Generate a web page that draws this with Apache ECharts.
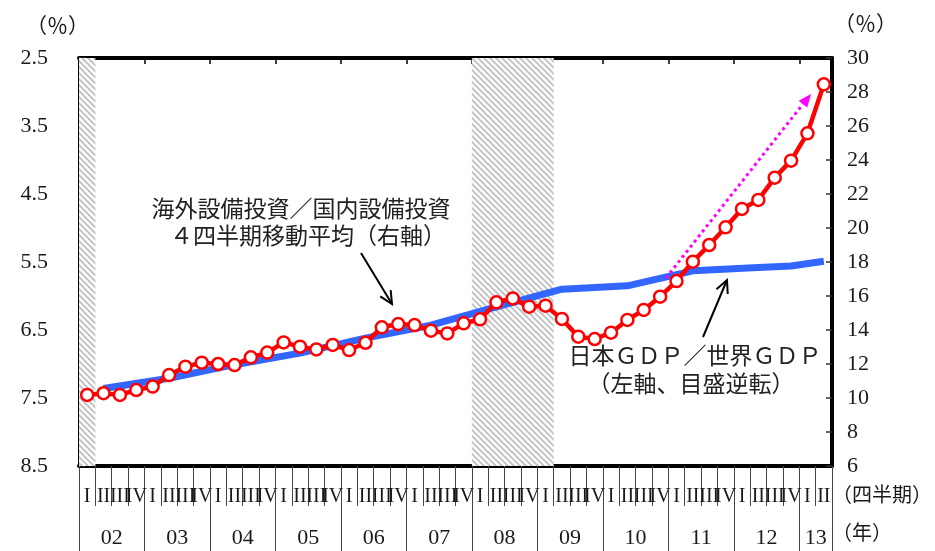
<!DOCTYPE html>
<html><head><meta charset="utf-8">
<script src="https://cdn.jsdelivr.net/npm/echarts@6/dist/echarts.min.js"></script>
<style>html,body{margin:0;padding:0;background:#fff}#c{width:935px;height:551px}</style>
</head><body><div id="c"></div>
<script>
// ---- data ----
const years = ['02','03','04','05','06','07','08','09','10','11','12','13'];
const quarterNames = ['I','II','III','IV'];
const lastYearQuarters = 2; // 2013: I, II
// 海外設備投資／国内設備投資 4四半期移動平均 (right axis, %)
const fdiRatio = [10.18, 10.28, 10.18, 10.47, 10.67, 11.35, 11.84, 12.08, 12.0, 11.94,
  12.39, 12.67, 13.27, 13.02, 12.86, 13.12, 12.82, 13.25, 14.16, 14.35,
  14.29, 13.96, 13.8, 14.39, 14.63, 15.63, 15.86, 15.37, 15.43, 14.65,
  13.61, 13.47, 13.84, 14.59, 15.18, 15.96, 16.88, 18.02, 19.0, 20.04,
  21.12, 21.65, 22.96, 23.96, 25.57, 28.45];
// 日本GDP／世界GDP (left axis, inverted, %)
const gdpShareAt = ['02-II','03-II','04-II','05-II','06-II','07-II','08-II','09-II','10-II','11-II','12-II','12-IV','13-II'];
const gdpShare = [7.36, 7.21, 7.01, 6.84, 6.62, 6.43, 6.16, 5.90, 5.85, 5.63, 5.58, 5.56, 5.49];
// shaded periods (recessions)
const shadeFrom = ['02-I', '08-I'];
const shadeTo = ['02-I', '09-I'];
const leftTicks = [2.5, 3.5, 4.5, 5.5, 6.5, 7.5, 8.5];

// ---- build ----
const quarters = [];
years.forEach((y, i) => {
  const n = i === years.length - 1 ? lastYearQuarters : 4;
  for (let q = 0; q < n; q++) quarters.push(y + '-' + quarterNames[q]);
});
const N = quarters.length;
const gdpData = quarters.map(k => { const j = gdpShareAt.indexOf(k); return j >= 0 ? gdpShare[j] : null; });
const yearCenters = {};
years.forEach((y, i) => {
  const s = i * 4, e = Math.min(s + 4, N);
  yearCenters[(s + e) / 2] = y;
});
const areas = shadeFrom.map((s, i) => [{ xAxis: quarters.indexOf(s) }, { xAxis: quarters.indexOf(shadeTo[i]) + 1 }]);

// hatch pattern
const T = 6;
const pc = document.createElement('canvas');
pc.width = T; pc.height = T;
const g = pc.getContext('2d');
g.fillStyle = '#ffffff'; g.fillRect(0, 0, T, T);
g.strokeStyle = '#c4c4c4'; g.lineWidth = 2;
[-T, 0, T].forEach(ox => { g.beginPath(); g.moveTo(ox - 1, -1); g.lineTo(ox + T + 1, T + 1); g.stroke(); });

const numFont = 'Liberation Serif';
const txtColor = '#1a1a1a';

function vArrow(x1, y1, x2, y2, len, ang) {
  const a = Math.atan2(y2 - y1, x2 - x1);
  return [[x2 - len * Math.cos(a - ang), y2 - len * Math.sin(a - ang)], [x2, y2], [x2 - len * Math.cos(a + ang), y2 - len * Math.sin(a + ang)]];
}

const chart = echarts.init(document.getElementById('c'), null, { renderer: 'canvas' });
const axisBlack = { onZero: false, lineStyle: { color: '#000', width: 4 } };
chart.setOption({
  animation: false,
  backgroundColor: '#fff',
  grid: { left: 79, right: 103, top: 58, bottom: 85, containLabel: false },
  xAxis: [
    { type: 'category', data: quarters, position: 'bottom', boundaryGap: true,
      axisLine: axisBlack,
      axisTick: { show: true, interval: 0, length: 40, lineStyle: { color: '#444', width: 1 } },
      axisLabel: { interval: 0, margin: 21, fontFamily: numFont, fontSize: 20, color: txtColor,
        formatter: v => v.split('-')[1] },
      splitLine: { show: false } },
    { type: 'category', data: quarters, position: 'bottom', boundaryGap: true,
      axisLine: { show: false, onZero: false },
      axisTick: { show: true, length: 90, interval: (i) => i % 4 === 0, lineStyle: { color: '#444', width: 1 } },
      axisLabel: { show: false }, splitLine: { show: false } },
    { type: 'category', data: quarters, position: 'top', boundaryGap: true,
      axisLine: axisBlack,
      axisTick: { show: true, inside: true, length: 6, interval: (i) => i % 4 === 0 && i > 0, lineStyle: { color: '#000', width: 1.5 } },
      axisLabel: { show: false }, splitLine: { show: false } },
    { type: 'value', min: 0, max: N, interval: 1, position: 'bottom',
      axisLine: { show: false, onZero: false }, axisTick: { show: false }, splitLine: { show: false },
      axisLabel: { margin: 61, fontFamily: numFont, fontSize: 22, color: txtColor, showMinLabel: true, showMaxLabel: true,
        formatter: v => yearCenters[v] || '' } }
  ],
  yAxis: [
    { type: 'value', position: 'left', inverse: true, min: 2.5, max: 8.5, interval: 0.5,
      axisLine: { show: true, onZero: false, lineStyle: { color: '#000', width: 3 } },
      axisTick: { show: false }, splitLine: { show: false },
      axisLabel: { margin: 31, fontFamily: numFont, fontSize: 22, color: txtColor,
        formatter: v => leftTicks.some(t => Math.abs(t - v) < 1e-6) ? v.toFixed(1) : '' } },
    { type: 'value', position: 'right', min: 6, max: 30, interval: 2,
      axisLine: axisBlack,
      axisTick: { show: true, inside: true, length: 6, lineStyle: { color: '#333', width: 1.5 } },
      splitLine: { show: false },
      axisLabel: { margin: 15, fontFamily: numFont, fontSize: 22, color: txtColor } },
    { type: 'value', position: 'left', inverse: true, min: 0, max: leftTicks.length - 1, interval: 1,
      axisLine: { show: false, onZero: false },
      axisTick: { show: true, inside: true, length: 6, lineStyle: { color: '#333', width: 1.5 } },
      axisLabel: { show: false }, splitLine: { show: false } }
  ],
  series: [
    { type: 'line', xAxisIndex: 3, yAxisIndex: 0, data: [], silent: true,
      markArea: { silent: true, itemStyle: { color: { image: pc, repeat: 'repeat' }, opacity: 1 }, data: areas } },
    { name: '日本GDP／世界GDP', type: 'line', xAxisIndex: 0, yAxisIndex: 0, data: gdpData, connectNulls: true,
      showSymbol: false, symbol: 'none', lineStyle: { color: '#3366ff', width: 7 }, z: 3 },
    { name: '海外設備投資／国内設備投資', type: 'line', xAxisIndex: 0, yAxisIndex: 1, data: fdiRatio,
      symbol: 'circle', symbolSize: 12, showAllSymbol: true,
      itemStyle: { color: '#fff', borderColor: '#ff0000', borderWidth: 2.5 },
      lineStyle: { color: '#ff0000', width: 4.5 }, z: 4 }
  ],
  graphic: [
    { type: 'text', left: 26, top: 15, style: { text: '（％）', font: '21px "Noto Sans CJK JP"', fill: txtColor }, z: 10 },
    { type: 'text', left: 834, top: 13, style: { text: '（％）', font: '21px "Noto Sans CJK JP"', fill: txtColor }, z: 10 },
    { type: 'text', left: 832, top: 484, style: { text: '（四半期）', font: '20px "Noto Sans CJK JP"', fill: txtColor }, z: 10 },
    { type: 'text', left: 832, top: 522, style: { text: '（年）', font: '20px "Noto Sans CJK JP"', fill: txtColor }, z: 10 },
    { type: 'text', x: 301, y: 208, style: { text: '海外設備投資／国内設備投資', font: '23px "Noto Sans CJK JP"', fill: '#222', textAlign: 'center', textVerticalAlign: 'middle' }, z: 10 },
    { type: 'text', x: 308, y: 235, style: { text: '４四半期移動平均（右軸）', font: '23px "Noto Sans CJK JP"', fill: '#222', textAlign: 'center', textVerticalAlign: 'middle' }, z: 10 },
    { type: 'text', x: 695, y: 355, style: { text: '日本ＧＤＰ／世界ＧＤＰ', font: '23px "Noto Sans CJK JP"', fill: '#222', textAlign: 'center', textVerticalAlign: 'middle' }, z: 10 },
    { type: 'text', x: 691, y: 383, style: { text: '（左軸、目盛逆転）', font: '23px "Noto Sans CJK JP"', fill: '#222', textAlign: 'center', textVerticalAlign: 'middle' }, z: 10 },
    { type: 'line', shape: { x1: 361, y1: 253, x2: 392, y2: 304 }, style: { stroke: '#000', lineWidth: 2 }, z: 10 },
    { type: 'polyline', shape: { points: vArrow(361, 253, 392, 304, 14, 0.45) }, style: { stroke: '#000', lineWidth: 2, fill: null }, z: 10 },
    { type: 'line', shape: { x1: 703, y1: 337, x2: 727, y2: 280 }, style: { stroke: '#000', lineWidth: 2 }, z: 10 },
    { type: 'polyline', shape: { points: vArrow(703, 337, 727, 280, 14, 0.45) }, style: { stroke: '#000', lineWidth: 2, fill: null }, z: 10 },
    { type: 'line', shape: { x1: 666, y1: 278, x2: 803, y2: 104 }, style: { stroke: '#ff00ff', lineWidth: 3, lineDash: [3, 3.5] }, z: 10 },
    { type: 'polygon', shape: { points: vArrow(666, 278, 811, 94, 14, 0.4) }, style: { fill: '#ff00ff' }, z: 10 }
  ]
});
</script></body></html>
